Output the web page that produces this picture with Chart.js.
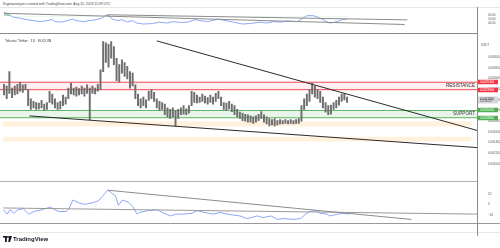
<!DOCTYPE html>
<html lang="en">
<head>
<meta charset="utf-8" />
<title>Telcoin / Tether 1D</title>
<script src="https://cdn.jsdelivr.net/npm/chart.js@4.4.0/dist/chart.umd.min.js"></script>
<style>
  html, body { margin: 0; padding: 0; background: #fff; }
  body { width: 500px; height: 248px; position: relative; overflow: hidden; font-family: "Liberation Sans", Arial, sans-serif; }
  .pane { position: absolute; left: 0; width: 500px; }
  .pane canvas { display: block; }
  .hline { position: absolute; left: 0; height: 1px; }
  #hdr { position: absolute; left: 3px; top: 2px; font-size: 3.4px; color: #444; white-space: nowrap; }
  #title { position: absolute; left: 5px; top: 39px; font-size: 3.4px; color: #333; white-space: nowrap; }
  #logo { position: absolute; left: 3px; top: 236px; display: flex; align-items: center; gap: 1px; font-size: 6px; font-weight: bold; color: #131722; }
</style>
</head>
<body>
<div id="hdr">Kryptoanalyzer created with TradingView.com, Aug 15, 2023 11:39 UTC</div>

<div class="pane" style="top:7px;height:27px"><canvas id="rsi" width="500" height="27"></canvas></div>
<div class="pane" style="top:34px;height:147px"><canvas id="main" width="500" height="147"></canvas></div>
<div class="pane" style="top:181px;height:51px"><canvas id="osc" width="500" height="51"></canvas></div>

<div class="hline" style="top:7px;width:500px;background:#e6e6e6"></div>
<div class="hline" style="top:33px;width:477px;background:#8a8a8a"></div>
<div class="hline" style="top:181px;width:477px;background:#b0b0b0"></div>
<div class="hline" style="top:223px;width:500px;background:#9a9a9a"></div>
<div class="hline" style="top:232px;width:500px;background:#e6e6e6"></div>
<div style="position:absolute;left:477px;top:7px;width:1px;height:229px;background:#8a8a8a"></div>

<div id="title">Telcoin / Tether · 1D · KUCOIN</div>
<div id="logo">
  <svg width="9" height="6" viewBox="0 0 9 6"><rect x="0" y="0" width="4" height="1.6" fill="#131722"/><rect x="2" y="0" width="1.8" height="6" fill="#131722"/><circle cx="5" cy="1" r="0.9" fill="#131722"/><path d="M6.2 0 L9 0 L7 6 L5.2 6 Z" fill="#131722"/></svg>
  <span>TradingView</span>
</div>

<script>
// time axis: day index counted from Dec 1 2022
const monthDays = [0, 31, 62, 90, 121, 151, 182, 212, 243, 274, 304, 335];
const monthLabels = ['Dec', '2023', 'Feb', 'Mar', 'Apr', 'May', 'Jun', 'Jul', 'Aug', 'Sep', 'Oct', 'Nov'];

// TEL/USDT bars, one every 2 days, prices in 1e-5 USDT
const barStep = 2;
const highs = [249, 246, 273, 242, 246, 249, 253, 248, 249, 239, 222, 217, 215, 214, 219, 212, 215, 236, 231, 222,
  215, 217, 229, 225, 242, 251, 242, 244, 241, 246, 242, 248, 242, 246, 242, 249, 276, 329, 327, 324,
  329, 320, 298, 286, 295, 290, 283, 273, 270, 248, 231, 222, 225, 220, 236, 239, 234, 222, 217, 215,
  212, 205, 202, 205, 200, 202, 205, 209, 203, 209, 236, 234, 229, 225, 231, 227, 224, 229, 225, 232,
  236, 225, 215, 214, 217, 212, 209, 202, 197, 195, 193, 192, 190, 188, 190, 193, 198, 192, 188, 185,
  183, 185, 181, 183, 181, 183, 181, 183, 181, 183, 185, 209, 222, 231, 239, 251, 246, 239, 236, 225,
  215, 209, 210, 215, 219, 225, 231, 232, 225];
const lows = [229, 222, 232, 224, 229, 231, 236, 234, 239, 209, 202, 205, 202, 203, 205, 200, 202, 215, 212, 205,
  202, 203, 209, 212, 222, 231, 229, 227, 229, 231, 227, 232, 183, 232, 231, 236, 239, 273, 290, 281,
  298, 286, 256, 253, 270, 264, 259, 242, 246, 222, 209, 205, 209, 205, 219, 222, 217, 205, 200, 202,
  192, 188, 185, 188, 171, 185, 192, 193, 192, 195, 209, 215, 214, 215, 217, 214, 212, 215, 212, 217,
  222, 209, 202, 200, 203, 198, 192, 188, 185, 181, 180, 178, 178, 176, 178, 181, 185, 178, 175, 171,
  173, 171, 173, 175, 175, 176, 175, 176, 175, 176, 176, 180, 202, 209, 217, 231, 225, 222, 215, 205,
  197, 192, 193, 202, 205, 210, 217, 220, 215];
const lastPrice = 219;
const resistance = [253, 239];
const support = [200, 186.4];
const demandBands = [[180, 170], [151, 142]];
const priceTicks = [300, 280, 260, 240, 220, 200, 180, 160, 140, 120, 100];
const upperTrend = [[114, 330.5], [353, 162.7]];
const lowerTrend = [[19, 189.8], [353, 130.5]];

// upper pane (RSI)
const rsiDays = [0, 3, 7, 12, 17, 22, 27, 32, 36, 38, 43, 47, 51, 54, 59, 64, 69, 73, 76, 78,
  81, 85, 88, 92, 96, 99, 104, 111, 116, 122, 126, 133, 137, 143, 146, 152, 160, 165, 171, 178,
  184, 191, 196, 201, 206, 211, 219, 222, 226, 231, 234, 238, 243, 249, 253, 256];
const rsiVals = [68.8, 63.5, 55.7, 53.1, 49.2, 46.5, 43.9, 46.5, 49.2, 43.9, 42.6, 46.5, 50.5, 46.5, 43.9, 46.5, 49.2, 53.1, 60.9, 59.6,
  50.5, 46.5, 49.2, 42.6, 46.5, 40.0, 37.4, 38.7, 42.6, 40.0, 43.9, 41.3, 42.6, 49.2, 46.5, 43.9, 50.5, 46.5, 42.6, 37.4,
  38.7, 42.6, 40.0, 43.9, 42.6, 45.2, 43.9, 50.5, 59.6, 59.6, 55.7, 49.2, 40.0, 43.9, 50.5, 49.2];
const rsiTicks = [40, 50, 60];
const rsiTrendA = [[0, 66.1], [299, 36.1]];
const rsiTrendB = [[77, 62.2], [301, 48.5]];

// lower pane (oscillator)
const oscDays = [-1, 2, 4, 7, 10, 14, 18, 22, 28, 34, 40, 46, 48, 51, 55, 60, 66, 70, 73, 77,
  79, 83, 85, 88, 93, 96, 99, 101, 107, 114, 119, 124, 128, 133, 140, 144, 149, 156, 161, 166,
  176, 181, 184, 189, 193, 199, 204, 208, 216, 221, 225, 228, 232, 236, 241, 243, 249, 253, 257];
const oscVals = [-10, -18.3, -10, -16.7, -10, -8.3, -18.3, -13.3, -10, -5, -13.3, -13.3, -8.3, 8.3, 3.3, 0, 3.3, 6.7, 15, 26.7,
  23.3, 15, -1.7, 8.3, 3.3, -5, -18.3, -15, -11.7, -10, -16.7, -21.7, -18.3, -18.3, -16.7, -11.7, -15, -18.3, -15, -18.3,
  -21.7, -26.7, -25, -21.7, -25, -21.7, -28.3, -26.7, -28.3, -26.7, -18.3, -13.3, -11.7, -16.7, -18.3, -21.7, -18.3, -16.7, -18.3];
const oscTicks = [-20, 0, 20];
const oscTrendA = [[77, 26.7], [304, -28.3]];
const oscTrendB = [[-1, -6.7], [353, -18.3]];

const DAY_MIN = -3, DAY_MAX = 353;
const AXIS_FONT = { size: 3, family: 'Liberation Sans' };
const BLUE = '#6f92f2';

Chart.defaults.animation = false;
Chart.defaults.plugins.legend.display = false;
Chart.defaults.plugins.tooltip.enabled = false;
Chart.defaults.font.family = 'Liberation Sans';

function pts(pairs) {
  return pairs.map(p => ({ x: p[0], y: p[1] }));
}
function flat(value, x0, x1) {
  return [{ x: x0, y: value }, { x: x1, y: value }];
}
function seg(pairs, color, width) {
  return { type: 'line', data: pts(pairs), borderColor: color, borderWidth: width, pointRadius: 0, order: 0 };
}

function xAxis(show) {
  return {
    type: 'linear', min: DAY_MIN, max: DAY_MAX, offset: false, display: show,
    grid: { display: false }, border: { display: false },
    afterBuildTicks: s => { s.ticks = monthDays.map(v => ({ value: v })); },
    afterFit: s => { s.height = 9; },
    ticks: {
      autoSkip: false, maxRotation: 0, padding: 2, font: AXIS_FONT, color: '#555',
      callback: v => monthLabels[monthDays.indexOf(v)]
    }
  };
}
function yAxis(min, max, ticks, fmt) {
  return {
    position: 'right', min, max,
    grid: { display: false }, border: { display: false },
    afterBuildTicks: s => { s.ticks = ticks.map(v => ({ value: v })); },
    afterFit: s => { s.width = 23; },
    ticks: { padding: 3, font: AXIS_FONT, color: '#555', callback: fmt }
  };
}
const baseOpts = { responsive: false, devicePixelRatio: 1, layout: { padding: 0 } };

// price tags on the right scale, zone captions
const tagPlugin = {
  id: 'tags',
  afterDraw(chart, args, opts) {
    const { ctx, chartArea } = chart;
    const y = chart.scales.y;
    const left = chartArea.right + 1;
    ctx.save();
    ctx.textBaseline = 'middle';
    opts.items.forEach(t => {
      const py = Math.round(y.getPixelForValue(t.value));
      ctx.fillStyle = t.bg;
      ctx.fillRect(left, py - t.h / 2, 20, t.h);
      ctx.fillStyle = t.fg;
      ctx.font = '3px "Liberation Sans"';
      ctx.fillText((t.value / 1e5).toFixed(7), left + 2, t.sub ? py - 1.3 : py);
      if (t.sub) ctx.fillText(t.sub, left + 2, py + 1.5);
    });
    ctx.fillStyle = '#555';
    ctx.font = '3px "Liberation Sans"';
    ctx.fillText('USDT', left + 3, y.getPixelForValue(opts.unitAt));
    ctx.fillStyle = '#333';
    ctx.font = '4.6px "Liberation Sans"';
    ctx.textAlign = 'right';
    opts.notes.forEach(n => {
      ctx.fillText(n.text, chartArea.right - 2, y.getPixelForValue(n.value));
    });
    ctx.restore();
  }
};

// main pane
const candles = highs.map((h, i) => ({ x: i * barStep, y: [lows[i], h] }));
const RED = 'rgba(242,54,69,0.9)';
const GREEN = 'rgba(76,175,80,0.9)';
new Chart(document.getElementById('main'), {
  type: 'line',
  data: {
    datasets: [
      { type: 'bar', data: candles, backgroundColor: '#6e6e6e', barThickness: 1.3, grouped: false, order: 1 },
      seg(upperTrend, '#2b2b2b', 1),
      seg(lowerTrend, '#2b2b2b', 1),
      { data: flat(resistance[0], DAY_MIN, DAY_MAX), borderColor: RED, borderWidth: 1, pointRadius: 0,
        fill: '+1', backgroundColor: 'rgba(242,54,69,0.08)', order: 2 },
      { data: flat(resistance[1], DAY_MIN, DAY_MAX), borderColor: RED, borderWidth: 1, pointRadius: 0, order: 2 },
      { data: flat(support[0], DAY_MIN, DAY_MAX), borderColor: GREEN, borderWidth: 1, pointRadius: 0,
        fill: '+1', backgroundColor: 'rgba(76,175,80,0.12)', order: 2 },
      { data: flat(support[1], DAY_MIN, DAY_MAX), borderColor: GREEN, borderWidth: 1, pointRadius: 0, order: 2 },
      { data: flat(demandBands[0][0], -1, 349), borderWidth: 0, pointRadius: 0, fill: '+1',
        backgroundColor: 'rgba(255,224,178,0.45)', order: 3 },
      { data: flat(demandBands[0][1], -1, 349), borderWidth: 0, pointRadius: 0, order: 3 },
      { data: flat(demandBands[1][0], -1, 349), borderWidth: 0, pointRadius: 0, fill: '+1',
        backgroundColor: 'rgba(255,224,178,0.45)', order: 3 },
      { data: flat(demandBands[1][1], -1, 349), borderWidth: 0, pointRadius: 0, order: 3 }
    ]
  },
  options: {
    ...baseOpts,
    scales: {
      x: xAxis(false),
      y: yAxis(84.7, 334.4, priceTicks, v => (v / 1e5).toFixed(7))
    },
    plugins: {
      tags: {
        unitAt: 322,
        items: [
          { value: resistance[0], bg: '#f23645', fg: '#fff', h: 4.5 },
          { value: resistance[1], bg: '#f23645', fg: '#fff', h: 4.5 },
          { value: lastPrice, bg: '#d8d8dc', fg: '#333', h: 7, sub: '12:20:53' },
          { value: support[0], bg: '#4caf50', fg: '#fff', h: 4.5 },
          { value: support[1], bg: '#4caf50', fg: '#fff', h: 4.5 }
        ],
        notes: [
          { text: 'RESISTANCE', value: (resistance[0] + resistance[1]) / 2 },
          { text: 'SUPPORT', value: (support[0] + support[1]) / 2 }
        ]
      }
    }
  },
  plugins: [tagPlugin]
});

// upper pane
new Chart(document.getElementById('rsi'), {
  type: 'line',
  data: {
    datasets: [
      { data: rsiDays.map((d, i) => ({ x: d, y: rsiVals[i] })), borderColor: BLUE, borderWidth: 0.8,
        pointRadius: 0, tension: 0, order: 1,
        fill: { target: { value: 58 }, above: 'rgba(76,175,80,0.45)', below: 'rgba(0,0,0,0)' } },
      seg(rsiTrendA, '#8c8c8c', 1),
      seg(rsiTrendB, '#8c8c8c', 1)
    ]
  },
  options: {
    ...baseOpts,
    scales: {
      x: xAxis(false),
      y: yAxis(34.8, 70.1, rsiTicks, v => v.toFixed(2))
    }
  }
});

// lower pane
new Chart(document.getElementById('osc'), {
  type: 'line',
  data: {
    datasets: [
      { data: oscDays.map((d, i) => ({ x: d, y: oscVals[i] })), borderColor: BLUE, borderWidth: 0.8,
        pointRadius: 0, tension: 0, order: 1 },
      seg(oscTrendA, '#8c8c8c', 1),
      seg(oscTrendB, '#9a9a9a', 1)
    ]
  },
  options: {
    ...baseOpts,
    scales: {
      x: xAxis(true),
      y: yAxis(-35, 35, oscTicks, v => String(v).replace('-', '\u2212'))
    }
  }
});
</script>
</body>
</html>
